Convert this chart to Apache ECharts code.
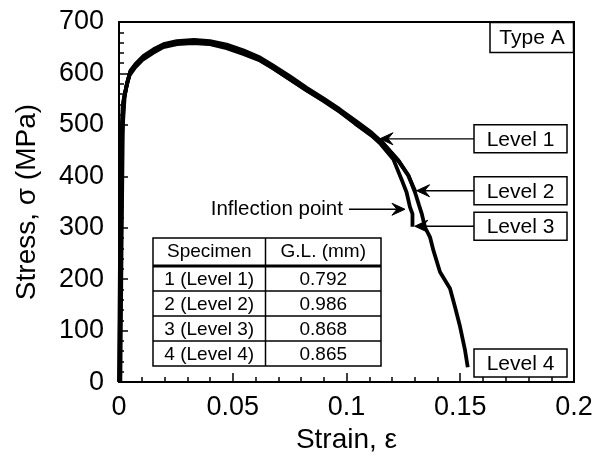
<!DOCTYPE html>
<html>
<head>
<meta charset="utf-8">
<script src="https://cdn.jsdelivr.net/npm/echarts@6/dist/echarts.min.js"></script>
<style>
  html, body { margin: 0; padding: 0; background: #fff; }
  #chart { width: 596px; height: 459px; }
</style>
</head>
<body>
<div id="chart"></div>
<script>
// strain / stress readings for the four specimens
const strain1 = [0, 0.0004, 0.0009, 0.0016, 0.0031, 0.0046, 0.0068, 0.0105, 0.0150, 0.0195, 0.0255, 0.0325, 0.0400, 0.0473, 0.0546, 0.0620, 0.0678, 0.0750, 0.0825, 0.0900, 0.0971, 0.1040, 0.1110, 0.1150];
const stress1 = [0, 230, 460, 536, 572, 596, 610, 627, 640, 651, 657, 659, 657, 649, 638, 625, 610, 589, 567, 547, 526, 502, 481, 468];

const strain2 = [0.0003, 0.0008, 0.0014, 0.0021, 0.0036, 0.0050, 0.0072, 0.0108, 0.0152, 0.0196, 0.0254, 0.0330, 0.0400, 0.0473, 0.0546, 0.0620, 0.0678, 0.0750, 0.0825, 0.0900, 0.0971, 0.1040, 0.1110, 0.1160, 0.1228, 0.1272, 0.1303];
const stress2 = [0, 240, 480, 550, 582, 605, 618, 634, 647, 657, 663, 665, 663, 656, 645, 631, 615, 595, 572, 551, 530, 508, 485, 465, 430, 401, 370];

const strain3 = [0.0006, 0.0011, 0.0017, 0.0025, 0.0038, 0.0052, 0.0075, 0.0110, 0.0155, 0.0200, 0.0258, 0.0330, 0.0400, 0.0473, 0.0546, 0.0620, 0.0678, 0.0750, 0.0825, 0.0900, 0.0971, 0.1040, 0.1110, 0.1150, 0.1206, 0.1242, 0.1264, 0.1279, 0.1290, 0.1290];
const stress3 = [0, 250, 500, 556, 585, 606, 618, 633, 645, 654, 659, 660, 658, 651, 640, 626, 610, 589, 567, 546, 525, 502, 479, 463, 433, 394, 369, 340, 327, 302];

const strain4 = [0.0002, 0.0006, 0.0012, 0.0019, 0.0034, 0.0048, 0.0070, 0.0107, 0.0151, 0.0195, 0.0254, 0.0327, 0.0400, 0.0473, 0.0546, 0.0620, 0.0678, 0.0750, 0.0825, 0.0900, 0.0971, 0.1040, 0.1110, 0.1160, 0.1228, 0.1272, 0.1301, 0.1318, 0.1331, 0.1345, 0.1367, 0.1382, 0.1411, 0.1455, 0.1477, 0.1499, 0.1521, 0.1533];
const stress4 = [0, 240, 470, 545, 578, 601, 614, 630, 643, 654, 660, 662, 660, 652, 642, 628, 612, 590, 568, 548, 527, 505, 482, 465, 431, 402, 369, 345, 327, 301, 282, 256, 214, 182, 146, 108, 62, 29];

// table contents
const tableHeader = ['Specimen', 'G.L. (mm)'];
const specimenNames = ['1 (Level 1)', '2 (Level 2)', '3 (Level 3)', '4 (Level 4)'];
const gaugeLengths = ['0.792', '0.986', '0.868', '0.865'];

// arrow targets (strain, stress) for the level labels
const levelLabels = ['Level 1', 'Level 2', 'Level 3'];
const levelTips = [[0.1147, 473], [0.1308, 372], [0.1300, 303]];
const inflectionTip = [0.1257, 336];

const FONT = '"Liberation Sans", Arial, Helvetica, sans-serif';

const chart = echarts.init(document.getElementById('chart'));

function pairs(xs, ys) {
    return xs.map((x, i) => [x, ys[i]]);
}

const specimens = [[strain1, stress1], [strain2, stress2], [strain3, stress3], [strain4, stress4]];

chart.setOption({
    animation: false,
    backgroundColor: '#fff',
    grid: {
        left: 119, right: 22, top: 22, bottom: 75,
        show: true, borderColor: '#000', borderWidth: 2
    },
    xAxis: {
        type: 'value', min: 0, max: 0.2, interval: 0.05,
        name: 'Strain, ε', nameLocation: 'middle', nameGap: 41,
        nameTextStyle: { fontFamily: FONT, fontSize: 28, color: '#000' },
        axisLine: { show: true, lineStyle: { color: '#000', width: 2 } },
        axisTick: { show: true, inside: true, length: 9, lineStyle: { color: '#000', width: 1.5 } },
        minorTick: { show: true, splitNumber: 5, length: 5, lineStyle: { color: '#000', width: 1.5 } },
        axisLabel: { fontFamily: FONT, fontSize: 27, color: '#000', margin: 12 },
        splitLine: { show: false }
    },
    yAxis: {
        type: 'value', min: 0, max: 700, interval: 100,
        name: 'Stress, σ (MPa)', nameLocation: 'middle', nameGap: 78,
        nameTextStyle: { fontFamily: FONT, fontSize: 28, color: '#000' },
        axisLine: { show: true, lineStyle: { color: '#000', width: 2 } },
        axisTick: { show: true, inside: true, length: 9, lineStyle: { color: '#000', width: 1.5 } },
        minorTick: { show: true, splitNumber: 5, length: 5, lineStyle: { color: '#000', width: 1.5 } },
        axisLabel: { fontFamily: FONT, fontSize: 27, color: '#000', margin: 15 },
        splitLine: { show: false }
    },
    series: specimens.map((s, i) => ({
        name: specimenNames[i],
        type: 'line',
        data: pairs(s[0], s[1]),
        showSymbol: false,
        smooth: false,
        lineStyle: { color: '#000', width: 3.8 },
        z: 3
    }))
});

// annotations: boxes, arrows, table
const px = (p) => chart.convertToPixel({ gridIndex: 0 }, p);
const origin = px([0, 0]);
const corner = px([0.2, 700]);
const plotRight = corner[0], plotTop = corner[1], plotBottom = origin[1];

function text(str, x, y, size, align) {
    return {
        type: 'text', z: 20, x: x, y: y,
        style: {
            text: str, fontFamily: FONT, fontSize: size, fill: '#000',
            align: align || 'center', verticalAlign: 'middle',
            textAlign: align || 'center', textVerticalAlign: 'middle'
        }
    };
}
function box(x, y, w, h) {
    return {
        type: 'rect', z: 18,
        shape: { x: x, y: y, width: w, height: h },
        style: { fill: '#fff', stroke: '#000', lineWidth: 1.5 }
    };
}
function line(x1, y1, x2, y2, w) {
    return {
        type: 'line', z: 19,
        shape: { x1: x1, y1: y1, x2: x2, y2: y2 },
        style: { stroke: '#000', lineWidth: w || 1.3 }
    };
}
function head(tx, ty, dir) {
    // dir = 1 points left, -1 points right
    return {
        type: 'polygon', z: 21,
        shape: { points: [[tx, ty], [tx + dir * 13, ty - 6], [tx + dir * 8, ty], [tx + dir * 13, ty + 6]] },
        style: { fill: '#000', stroke: '#000', lineWidth: 1 }
    };
}

const g = [];

// Type A box
g.push(box(plotRight - 84, plotTop + 0.5, 83.5, 30));
g.push(text('Type A', plotRight - 42, plotTop + 16, 21));

// Level boxes with arrows
const boxLeft = plotRight - 100;
levelLabels.forEach((lab, i) => {
    const tip = px(levelTips[i]);
    g.push(line(boxLeft, tip[1], tip[0] + 4, tip[1]));
    g.push(head(tip[0], tip[1], 1));
    g.push(box(boxLeft, tip[1] - 14, 93, 28));
    g.push(text(lab, boxLeft + 46.5, tip[1] + 1, 21));
});
g.push(box(boxLeft, plotBottom - 33, 93, 28));
g.push(text('Level 4', boxLeft + 46.5, plotBottom - 18, 21));

// inflection point arrow
const inf = px(inflectionTip);
g.push(text('Inflection point', inf[0] - 62, inf[1], 20.5, 'right'));
g.push(line(inf[0] - 56, inf[1], inf[0] - 4, inf[1]));
g.push(head(inf[0], inf[1], -1));

// table
const tx0 = origin[0] + 34, tx1 = origin[0] + 146.5, tx2 = origin[0] + 262;
const rowY = [238, 266, 291, 316, 341, 366];
g.push(box(tx0, rowY[0], tx2 - tx0, rowY[5] - rowY[0]));
g.push(line(tx1, rowY[0], tx1, rowY[5], 1.5));
g.push(line(tx0, rowY[1], tx2, rowY[1], 3));
for (let r = 2; r < 5; r++) g.push(line(tx0, rowY[r], tx2, rowY[r], 1.5));
g.push(text(tableHeader[0], (tx0 + tx1) / 2, (rowY[0] + rowY[1]) / 2, 19));
g.push(text(tableHeader[1], (tx1 + tx2) / 2, (rowY[0] + rowY[1]) / 2, 19));
specimenNames.forEach((n, i) => {
    const cy = (rowY[i + 1] + rowY[i + 2]) / 2 + 1;
    g.push(text(n, (tx0 + tx1) / 2, cy, 19));
    g.push(text(gaugeLengths[i], (tx1 + tx2) / 2, cy, 19));
});

chart.setOption({ graphic: g });
</script>
</body>
</html>
